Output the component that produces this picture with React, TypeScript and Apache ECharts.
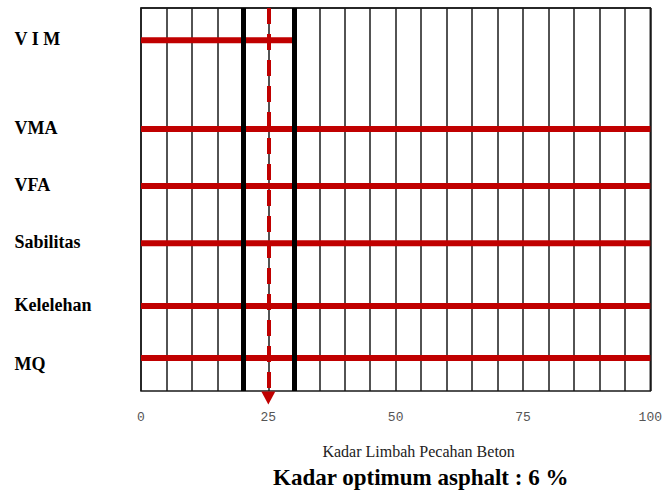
import React, { useEffect, useRef } from "react";
import * as echarts from "echarts";

const rowNames = ["V I M", "VMA", "VFA", "Sabilitas", "Kelelehan", "MQ"];
const rowPositions = [8.4, 31.6, 46.5, 61.4, 77.8, 91.4];
const rowStart = [0, 0, 0, 0, 0, 0];
const rowEnd = [30, 100, 100, 100, 100, 100];
const xTickLabels = [0, 25, 50, 75, 100];
const boundaryLines = [20, 30];
const optimumValue = 25;

const RED = "#C00000";

export default function App() {
  const ref = useRef<HTMLDivElement>(null);
  useEffect(() => {
    document.body.style.margin = "0";
    const chart = echarts.init(ref.current!, null, { renderer: "svg" });
    const markLine = {
      silent: true,
      animation: false,
      label: { show: false },
      symbol: ["none", "none"],
      data: [
        ...boundaryLines.map((v) => ({
          xAxis: v,
          symbol: "none",
          lineStyle: { color: "#000", width: 5, type: "solid" },
        })),
        [
          {
            coord: [optimumValue, 0],
            symbol: "none",
            lineStyle: { color: RED, width: 4, type: [16, 10] },
          },
          {
            coord: [optimumValue, 100],
            symbol: "triangle",
            symbolSize: [14, 13],
            symbolOffset: [0, -7],
            itemStyle: { color: RED },
          },
        ],
      ],
    };
    const rowSeries = rowNames.map((name, i) => ({
      type: "line",
      name,
      z: 3,
      clip: false,
      showSymbol: true,
      symbol: "circle",
      symbolSize: 1,
      itemStyle: { color: "rgba(0,0,0,0)" },
      lineStyle: { color: RED, width: 6 },
      emphasis: { disabled: true },
      markLine: i === rowNames.length - 1 ? markLine : undefined,
      data: [
        {
          value: [rowStart[i], rowPositions[i]],
          label: {
            show: true,
            position: "left",
            distance: 126,
            align: "left",
            verticalAlign: "middle",
            formatter: name,
            color: "#000",
            fontFamily: "Liberation Serif",
            fontWeight: "bold",
            fontSize: 18,
            offset: name === "MQ" ? [0, 6] : [0, -1],
          },
        },
        { value: [rowEnd[i], rowPositions[i]] },
      ],
    }));
    chart.setOption({
      animation: false,
      title: {
        text: "Kadar optimum asphalt : 6 %",
        left: 273,
        top: 466,
        padding: 0,
        textStyle: {
          fontFamily: "Liberation Serif",
          fontWeight: "bold",
          fontSize: 23,
          color: "#000",
        },
      },
      grid: {
        left: 141,
        right: 12,
        top: 8,
        bottom: 100,
        show: true,
        borderColor: "#1a1a1a",
        borderWidth: 1.5,
        backgroundColor: "transparent",
      },
      xAxis: {
        type: "value",
        min: 0,
        max: 100,
        interval: 5,
        name: "Kadar Limbah Pecahan Beton",
        nameLocation: "middle",
        nameGap: 52,
        nameTextStyle: {
          fontFamily: "Liberation Serif",
          fontSize: 16,
          color: "#222",
          padding: [0, 0, 0, 46],
        },
        axisLine: { show: true, lineStyle: { color: "#1a1a1a", width: 1.5 } },
        axisTick: { show: false },
        splitLine: { show: true, lineStyle: { color: "#1a1a1a", width: 1.5 } },
        axisLabel: {
          margin: 20,
          fontFamily: "Liberation Mono",
          fontSize: 13,
          color: "#555",
          formatter: (v: number) => (xTickLabels.includes(v) ? String(v) : ""),
        },
      },
      yAxis: {
        type: "value",
        inverse: true,
        min: 0,
        max: 100,
        show: false,
        splitLine: { show: false },
      },
      series: rowSeries,
    });
    return () => chart.dispose();
  }, []);
  return <div ref={ref} style={{ width: 665, height: 491 }} />;
}
